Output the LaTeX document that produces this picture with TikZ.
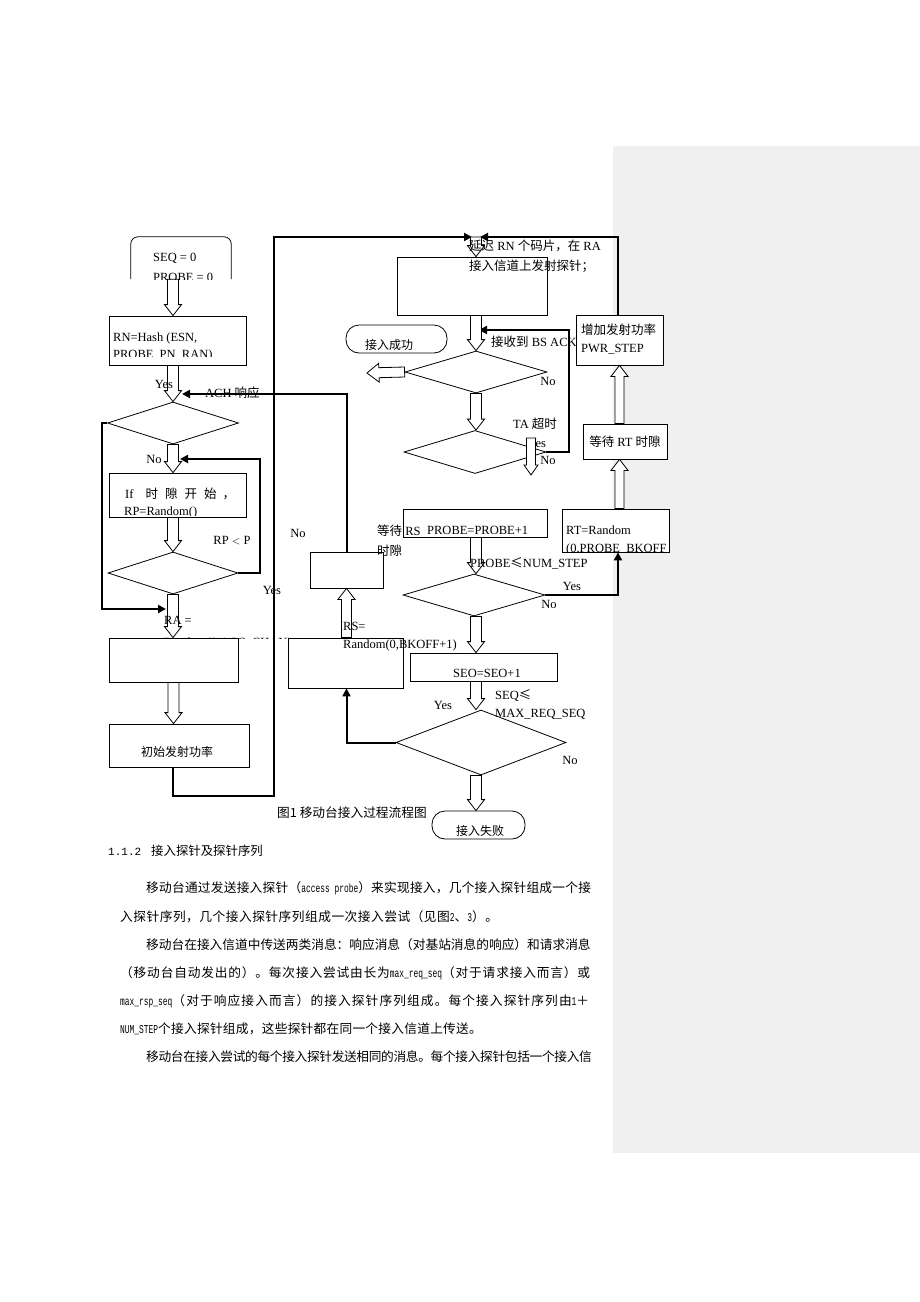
\documentclass[tikz,border=0pt]{standalone}
\usepackage{fontspec}
\setmainfont{Liberation Serif}
\newfontfamily\cjk{Noto Sans CJK SC}
\newfontfamily\monof{Liberation Mono}
\newfontfamily\monoc[FakeStretch=0.66]{Liberation Mono}
\usetikzlibrary{shapes.geometric,arrows.meta,calc}
\newcommand\zh[1]{{\cjk #1}}
\newcommand\lat[1]{{\monoc\fontsize{12}{12}\selectfont #1}}
\definecolor{panel}{HTML}{F0F0F0}
\tikzset{
  box/.style={draw, line width=0.8pt, inner sep=0pt, fill=white},
  dia/.style={diamond, draw, line width=0.8pt, inner sep=0pt, fill=white},
  conn/.style={line width=2pt, -{Triangle[length=8pt,width=8pt]}},
  lbl/.style={inner sep=0pt, font=\fontsize{12.5}{15}\selectfont},
  lw/.style={lbl, anchor=west},
  hol/.style={draw, line width=0.8pt, fill=white},
  para/.style={inner sep=0pt, anchor=west, font=\cjk\fontsize{12.7}{15}\selectfont},
}
% hollow block arrow: from, to, shaft half width, head half width, head length
\newcommand\harrow[5]{%
  \coordinate (ha-s) at (#1);
  \coordinate (ha-t) at (#2);
  \coordinate (ha-b) at ($(ha-t)!#5!(ha-s)$);
  \draw[hol] ($(ha-s)!#3!-90:(ha-t)$) -- ($(ha-b)!#3!90:(ha-s)$) -- ($(ha-b)!#4!90:(ha-s)$) -- (ha-t)
    -- ($(ha-b)!#4!-90:(ha-s)$) -- ($(ha-b)!#3!-90:(ha-s)$) -- ($(ha-s)!#3!90:(ha-t)$) -- cycle;
}
\begin{document}
\begin{tikzpicture}[x=1pt,y=-1pt]
\useasboundingbox (0,0) rectangle (920,1302);
\fill[white] (0,0) rectangle (920,1302);
\fill[panel] (613,146) rectangle (920,1153);

% ---------- nodes ----------
\node[minimum width=100pt, minimum height=42pt, inner sep=0pt] (seq) at (181,258) {};
\draw[line width=0.8pt, rounded corners=7pt] (seq.south west) -- (seq.north west) -- (seq.north east) -- (seq.south east);
\node[box, minimum width=137pt, minimum height=49pt] (rn) at (177.5,340.5) {};
\node[dia, minimum width=131pt, minimum height=42pt] (d1) at (173,423) {};
\node[box, minimum width=137pt, minimum height=44pt] (ifb) at (177.5,495) {};
\node[dia, minimum width=130pt, minimum height=42pt] (d2) at (173,573) {};
\node[box, minimum width=129pt, minimum height=44pt] (rab) at (173.5,660) {};
\node[box, minimum width=140pt, minimum height=43pt] (init) at (179,745.5) {};

\node[box, minimum width=150pt, minimum height=58pt] (top) at (472,286) {};
\node[box, rounded corners=13pt, minimum width=101pt, minimum height=28pt] (succ) at (396.5,339) {};
\node[dia, minimum width=142pt, minimum height=42pt] (d3) at (476,372) {};
\node[dia, minimum width=142pt, minimum height=43pt] (d4) at (475,452) {};
\node[box, minimum width=87pt, minimum height=50pt] (pwr) at (619.5,340) {};
\node[box, minimum width=84pt, minimum height=35pt] (wrt) at (625,441.5) {};
\node[box, minimum width=107pt, minimum height=43pt] (rt) at (615.5,530.5) {};
\node[box, minimum width=144pt, minimum height=28pt] (probe) at (475,523) {};
\node[dia, minimum width=142pt, minimum height=42pt] (d5) at (474,595) {};
\node[box, minimum width=147pt, minimum height=28pt] (seo) at (483.5,667) {};
\node[dia, minimum width=170pt, minimum height=65pt] (d6) at (481,742.5) {};
\node[box, rounded corners=13pt, minimum width=93pt, minimum height=28pt] (fail) at (478.5,825) {};
\node[box, minimum width=115pt, minimum height=50pt] (rs) at (345.5,663) {};
\node[box, minimum width=73pt, minimum height=36pt] (sm) at (346.5,570) {};

% helper coordinates for free connector ends
\coordinate (c1) at (166,609);
\coordinate (c2) at (180,459);
\coordinate (c3) at (182,394);
\coordinate (c6) at (274,796);
\coordinate (c7) at (472,237);
\coordinate (c9) at (480,237);
\coordinate (c10) at (479,330);
\coordinate (tj) at (476,237);
\coordinate (ta1) at (531,438);
\coordinate (ta2) at (531,475);
\coordinate (sa) at (367,373);

% ---------- thick connectors ----------
\draw[conn] (d1.west) -- ++(-5,0) |- (c1);
\draw[conn] (d2.east) -- ++(22,0) |- (c2);
\draw[conn] (sm.north) |- (c3);
\draw[conn] (init.south -| d2.south) |- (c6) |- (c7);
\draw[conn] (pwr.north -| 618,0) |- (c9);
\draw[conn] (d4.east) -- ++(23,0) |- (c10);
\draw[conn] (d5.east) -| (rt.south -| 618,0);
\draw[conn] (d6.west) -| (rs.south -| sm.south);

% ---------- text under a hollow arrow ----------
\node[lbl] at (537,443) {Yes};

% ---------- hollow arrows ----------
\harrow{seq.south -| d1.north}{rn.north -| d1.north}{5.5pt}{8.5pt}{11pt}
\harrow{rn.south -| d1.north}{d1.north}{5.5pt}{8.5pt}{11pt}
\harrow{d1.south}{ifb.north -| d1.south}{5.5pt}{8.5pt}{11pt}
\harrow{ifb.south -| d2.north}{d2.north}{5.5pt}{8.5pt}{11pt}
\harrow{d2.south}{rab.north -| d2.south}{5.5pt}{8.5pt}{11pt}
\harrow{rab.south}{init.north -| rab.south}{5.5pt}{8.5pt}{11pt}
\harrow{tj}{top.north -| tj}{5.5pt}{8.5pt}{11pt}
\harrow{top.south -| d3.north}{d3.north}{5.5pt}{8.5pt}{11pt}
\harrow{d3.south}{d4.north -| d3.south}{5.5pt}{8.5pt}{11pt}
\harrow{ta1}{ta2}{4.5pt}{7pt}{10pt}
\harrow{probe.south -| d3.south}{d5.north -| d3.south}{5.5pt}{8.5pt}{11pt}
\harrow{d5.south -| d3.south}{seo.north -| d3.south}{5.5pt}{8.5pt}{11pt}
\harrow{seo.south -| d3.south}{d6.north -| d3.south}{5.5pt}{8.5pt}{11pt}
\harrow{d6.south -| d3.south}{fail.north -| d3.south}{5.5pt}{8.5pt}{11pt}
\harrow{d3.west}{sa}{5pt}{9.5pt}{12pt}
\harrow{rt.north -| pwr.south}{wrt.south -| pwr.south}{4.5pt}{8.5pt}{11pt}
\harrow{wrt.north -| pwr.south}{pwr.south}{4.5pt}{8.5pt}{11pt}
\harrow{rs.north -| sm.south}{sm.south}{5pt}{8.5pt}{11pt}

% ---------- texts ----------
\node[lw] at (469,246) {\zh{延迟} RN \zh{个码片，在} RA};
\node[lw] at (469,266) {\zh{接入信道上发射探针；}};
\node[lw] at (153,258) {SEQ = 0};
\begin{scope}
  \clip (131,240) rectangle (231,279);
  \node[lw] at (153,277) {PROBE = 0};
\end{scope}
\node[lw] at (113,338) {RN=Hash (ESN,};
\begin{scope}
  \clip (110,340) rectangle (245,356.5);
  \node[lw] at (113,355.5) {PROBE\_PN\_RAN)};
\end{scope}
\node[lbl] at (164,384) {Yes};
\node[lw] at (205,393) {ACH \zh{响应}};
\node[lbl] at (154,459) {No};
\node[lw] at (125,494) {If\hspace{12pt}\zh{时}\hspace{7pt}\zh{隙}\hspace{7pt}\zh{开}\hspace{7pt}\zh{始}\hspace{6pt}\zh{，}};
\begin{scope}
  \clip (110,500) rectangle (245,515);
  \node[lw] at (124,512) {RP=Random()};
\end{scope}
\node[lbl] at (232,541) {RP {\fontsize{11}{12}\selectfont$<$} P};
\node[lbl] at (272,590) {Yes};
\node[lw] at (164,620) {RA =};
\begin{scope}
  \clip (150,600) rectangle (300,638.4);
  \node[lw] at (164,643) {Random(0,ACC\_CHAN)};
\end{scope}
\node[lbl, font=\cjk\fontsize{12}{14}\selectfont] at (177,752) {初始发射功率};

\node[lbl] at (298,533) {No};
\node[lw] at (377,531) {\zh{等待} RS};
\node[lw] at (377,551) {\zh{时隙}};
\node[lw] at (343,626) {RS=};
\node[lw] at (343,645) {Random(0,BKOFF+1)};

\node[lbl, font=\cjk\fontsize{12}{14}\selectfont] at (389,345) {接入成功};
\node[lw] at (491,342) {\zh{接收到} BS ACK};
\node[lbl] at (548,381) {No};
\node[lw] at (513,424) {TA \zh{超时}};
\node[lbl] at (548,460) {No};
\node[lw] at (581,330) {\zh{增加发射功率}};
\node[lw] at (581,349) {PWR\_STEP};
\node[lbl] at (625,442) {\zh{等待} RT \zh{时隙}};
\node[lw] at (566,530) {RT=Random};
\begin{scope}
  \clip (563,535) rectangle (668,552.5);
  \node[lw] at (566,549) {(0,PROBE\_BKOFF};
\end{scope}
\node[lw] at (427,530) {PROBE=PROBE+1};
\node[lw] at (470,563) {PROBE\zh{≤}NUM\_STEP};
\node[lbl] at (572,586) {Yes};
\node[lbl] at (549,604) {No};
\node[lw] at (453,673) {SEO=SEO+1};
\node[lbl] at (443,705) {Yes};
\node[lw] at (495,696) {SEQ\zh{≤}};
\node[lw] at (495,714) {MAX\_REQ\_SEQ};
\node[lbl] at (570,760) {No};
\node[lbl, font=\cjk\fontsize{12}{14}\selectfont] at (480,831) {接入失败};
\node[lw, font=\cjk\fontsize{12.7}{14}\selectfont] at (277,813) {图1 移动台接入过程流程图};

% ---------- document text ----------
\node[para, font=\cjk\fontsize{12.4}{15}\selectfont] at (108,851) {{\monof\fontsize{11}{12}\selectfont 1.1.2}\hspace{10pt}接入探针及探针序列};
\node[para] at (146,888) {\addfontfeature{LetterSpace=1.9}移动台通过发送接入探针（\lat{access probe}）来实现接入，几个接入探针组成一个接};
\node[para] at (120,917) {\addfontfeature{LetterSpace=4}入探针序列，几个接入探针序列组成一次接入尝试（见图\lat{2}、\lat{3}）。};
\node[para] at (146,945) {移动台在接入信道中传送两类消息：响应消息（对基站消息的响应）和请求消息};
\node[para] at (120,973) {\addfontfeature{LetterSpace=6.5}（移动台自动发出的）。每次接入尝试由长为\lat{max\_req\_seq}（对于请求接入而言）或};
\node[para] at (120,1001) {\addfontfeature{LetterSpace=8.7}\lat{max\_rsp\_seq}（对于响应接入而言）的接入探针序列组成。每个接入探针序列由\lat{1}＋};
\node[para] at (120,1029) {\addfontfeature{LetterSpace=2}\lat{NUM\_STEP}个接入探针组成，这些探针都在同一个接入信道上传送。};
\node[para] at (146,1057) {\addfontfeature{LetterSpace=-2.6}移动台在接入尝试的每个接入探针发送相同的消息。每个接入探针包括一个接入信};
\end{tikzpicture}
\end{document}
